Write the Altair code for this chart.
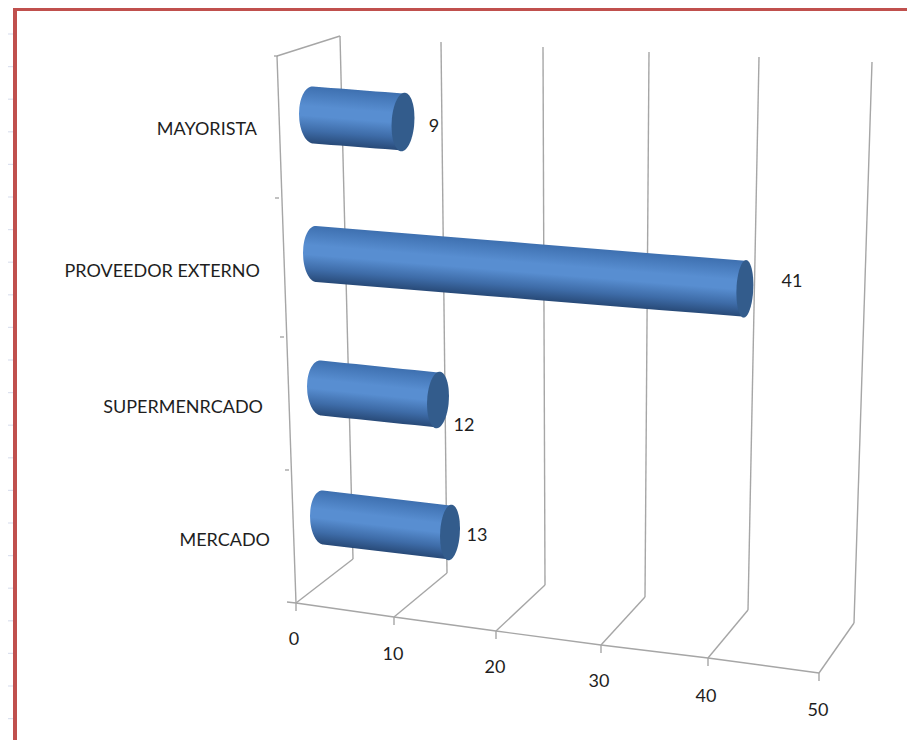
import math
import altair as alt
import pandas as pd

# ---------- chart values ----------
CATEGORIES = ["MAYORISTA", "PROVEEDOR  EXTERNO", "SUPERMENRCADO", "MERCADO"]
VALUES = [9, 41, 12, 13]
TICK_VALUES = [0, 10, 20, 30, 40, 50]

# ---------- 3D projection of the picture (layout, in page pixels) ----------
M = 8  # page margin
W, H = 899, 732
# per category: base centre x, y, px per unit x, px per unit y, half height, ellipse rx start, cap rx
BAR_LAYOUT = [
    (313, 115, 10.0, 0.78, 28.5, 14, 11.5),
    (316, 254, 10.46, 0.85, 28.0, 13, 8.5),
    (321, 388, 9.75, 1.0, 27.5, 14, 11),
    (323, 517.5, 9.77, 1.15, 27.0, 13, 10),
]
CAT_LABEL = [(257, 129.5), (260, 271.5), (263, 407.5), (270, 540.5)]
VAL_LABEL = [(434, 126.5), (792, 281.5), (464, 425.5), (477, 535.5)]
TICK_FRONT = [(296, 603), (394, 617), (496, 631), (601, 645), (708, 658), (819, 673)]
TICK_BACK = [(353, 559), (447, 573), (545, 585), (645, 597), (748, 610), (854, 623)]
TICK_TOP = [(340, 36), (441, 42), (543, 47), (649, 52), (759, 57), (872, 62)]
TICK_TEXT = [(294, 639.5), (393, 654.5), (495, 667.5), (599, 681.5), (706, 696.5), (818, 710.5)]
WALL_LEFT_TOP = (277, 56)
LEFT_TICKS = [(274, 56), (275, 198), (280, 337), (285, 470)]
CELL_LINES_Y = [34 + 32.6 * i for i in range(22)]

GRID = "#A6A6A6"
RED = "#C0504D"
CELL = "#DCE1EE"
CAP = "#335C8C"
TEXT = "#1E1E1E"
FONT = "Lato"
STOPS = [
    (0.0, "#3E70B0"),
    (0.35, "#588ED1"),
    (0.52, "#588ED1"),
    (0.78, "#3E6CA8"),
    (1.0, "#284A78"),
]


def segs(rows):
    return pd.DataFrame(
        [dict(x=a - M, y=b - M, x2=c - M, y2=d - M) for a, b, c, d in rows]
    )


grid_rows = []
for (fx, fy), (bx, by), (tx, ty) in zip(TICK_FRONT, TICK_BACK, TICK_TOP):
    grid_rows.append((fx, fy, bx, by))
    grid_rows.append((bx, by, tx, ty))
    grid_rows.append((fx, fy, fx, fy + 8))
grid_rows.append((287, 602, TICK_FRONT[0][0], TICK_FRONT[0][1]))
for (a, b), (c, d) in zip(TICK_FRONT[:-1], TICK_FRONT[1:]):
    grid_rows.append((a, b, c, d))
grid_rows.append((*WALL_LEFT_TOP, *TICK_TOP[0]))
grid_rows.append((*WALL_LEFT_TOP, *TICK_FRONT[0]))
for lx, ly in LEFT_TICKS:
    grid_rows.append((lx, ly, lx + 4, ly))

xs = alt.X("x:Q", scale=alt.Scale(domain=[0, W], range=[0, W]), axis=None)
ys = alt.Y("y:Q", scale=alt.Scale(domain=[0, H], range=[0, H]), axis=None)
enc = dict(x=xs, y=ys, x2="x2:Q", y2="y2:Q")
area_enc = dict(x=xs, y=ys, y2="y2:Q")


def cylinder(cat, val, x0, y0, ux, uy, hh, rx0, rx1):
    """One body (shaded area) and one end cap (flat ellipse) for a bar."""
    xe, ye = x0 + ux * val, y0 + uy * val
    slope = (ye - y0) / (xe - x0)
    body = []
    for i in range(41):
        u = -1 + i / 40
        e = math.sqrt(max(1 - u * u, 0))
        body.append((x0 + rx0 * u, y0 + rx0 * u * slope - hh * e, y0 + rx0 * u * slope + hh * e))
    for i in range(1, 11):
        f = i / 10
        x, y = x0 + f * (xe - x0), y0 + f * (ye - y0)
        body.append((x, y - hh, y + hh))
    body_df = pd.DataFrame(
        [dict(category=cat, value=val, x=a - M, y=b - M, y2=c - M) for a, b, c in body]
    )
    left = x0 - rx0
    w = xe - left
    top, bottom = min(b[1] for b in body), max(b[2] for b in body)
    h = bottom - top
    a = slope * w / h
    lam = (2 * hh / h) / (1 + a * a)
    px = (x0 - left) / w
    py = (y0 - hh - top) / h
    grad = alt.Gradient(
        gradient="linear",
        x1=px, y1=py,
        x2=px - lam * a, y2=py + lam,
        stops=[alt.GradientStop(offset=o, color=c) for o, c in STOPS],
    )
    cap = []
    for i in range(61):
        u = -1 + i / 30
        e = math.sqrt(max(1 - u * u, 0))
        tilt = -4 * u
        cap.append((xe + rx1 * u, ye + tilt - (hh + 0.5) * e, ye + tilt + (hh + 0.5) * e))
    cap_df = pd.DataFrame(
        [dict(category=cat, value=val, x=a - M, y=b - M, y2=c - M) for a, b, c in cap]
    )
    return (
        alt.Chart(body_df).mark_area(color=grad, interpolate="linear").encode(**area_enc),
        alt.Chart(cap_df).mark_area(color=CAP, interpolate="linear").encode(**area_enc),
    )


bar_layers = []
for cat, val, layout in zip(CATEGORIES, VALUES, BAR_LAYOUT):
    bar_layers.extend(cylinder(cat, val, *layout))

labels = pd.DataFrame(
    [dict(t=c, x=x - M, y=y - M) for c, (x, y) in zip(CATEGORIES, CAT_LABEL)]
)
centered = pd.DataFrame(
    [dict(t=str(v), x=x - M, y=y - M) for v, (x, y) in zip(VALUES, VAL_LABEL)]
    + [dict(t=str(v), x=x - M, y=y - M) for v, (x, y) in zip(TICK_VALUES, TICK_TEXT)]
)

cells = (
    alt.Chart(segs([(M, y, 14, y) for y in CELL_LINES_Y]))
    .mark_rule(color=CELL, strokeWidth=1.2)
    .encode(**enc)
)
frame = (
    alt.Chart(segs([(15, M, 15, M + H), (13, 9, M + W, 9)]))
    .mark_rule(color=RED, strokeWidth=4)
    .encode(**enc)
)
grid = alt.Chart(segs(grid_rows)).mark_rule(color=GRID, strokeWidth=1.4).encode(**enc)
cat_text = (
    alt.Chart(labels)
    .mark_text(align="right", baseline="middle", font=FONT, fontSize=18, color=TEXT)
    .encode(x=xs, y=ys, text="t:N")
)
val_text = (
    alt.Chart(centered)
    .mark_text(align="center", baseline="middle", font=FONT, fontSize=18, color=TEXT)
    .encode(x=xs, y=ys, text="t:N")
)

chart = (
    alt.layer(cells, frame, grid, *bar_layers, cat_text, val_text)
    .properties(width=W, height=H, padding=0, background="white",
                autosize=alt.AutoSizeParams(type="none"))
    .configure_view(stroke=None)
)
chart.save("out.html", embed_options={"renderer": "svg", "actions": False})
